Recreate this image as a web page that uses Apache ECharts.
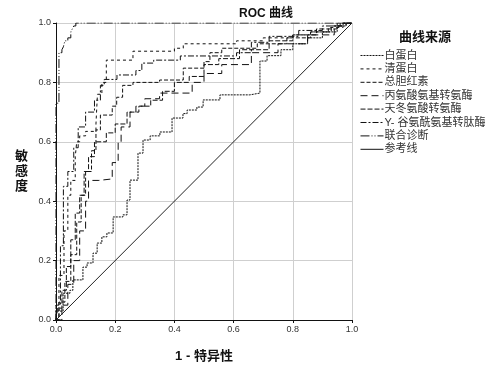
<!DOCTYPE html>
<html>
<head>
<meta charset="utf-8">
<script src="https://cdn.jsdelivr.net/npm/echarts@6/dist/echarts.min.js"></script>
<style>html,body{margin:0;padding:0;background:#fff}#c{width:500px;height:370px}</style>
</head>
<body>
<div id="c"></div>
<script>
// ---- Data (FPR = 1 - specificity, TPR = sensitivity) ----
var seriesNames = ['白蛋白','清蛋白','总胆红素','丙氨酸氨基转氨酶','天冬氨酸转氨酶','Y- 谷氨酰氨基转肽酶','联合诊断','参考线'];
var tickLabels = ['0.0','0.2','0.4','0.6','0.8','1.0'];

var albumin = [[0,0],[0.003,0],[0.003,0.03],[0.024,0.03],[0.024,0.09],[0.047,0.09],[0.047,0.10],[0.057,0.10],[0.057,0.135],[0.091,0.135],[0.091,0.178],[0.105,0.178],[0.105,0.192],[0.125,0.192],[0.125,0.225],[0.139,0.225],[0.139,0.259],[0.155,0.259],[0.155,0.28],[0.172,0.28],[0.172,0.293],[0.193,0.293],[0.193,0.347],[0.226,0.347],[0.226,0.354],[0.24,0.354],[0.24,0.404],[0.25,0.404],[0.25,0.471],[0.277,0.471],[0.277,0.562],[0.294,0.562],[0.294,0.606],[0.318,0.606],[0.318,0.62],[0.351,0.62],[0.351,0.633],[0.392,0.633],[0.392,0.68],[0.429,0.68],[0.429,0.695],[0.443,0.695],[0.443,0.707],[0.476,0.707],[0.476,0.717],[0.497,0.717],[0.497,0.741],[0.554,0.741],[0.554,0.758],[0.655,0.758],[0.655,0.764],[0.689,0.764],[0.689,0.872],[0.713,0.872],[0.713,0.89],[0.76,0.89],[0.76,0.91],[0.8,0.91],[0.8,0.93],[0.85,0.93],[0.85,0.95],[0.9,0.95],[0.9,0.97],[0.95,0.97],[0.95,0.99],[0.98,0.99],[0.98,1],[1,1]];

var prealbumin = [[0,0],[0.01,0],[0.01,0.15],[0.027,0.15],[0.027,0.3],[0.04,0.3],[0.04,0.42],[0.05,0.42],[0.05,0.47],[0.065,0.47],[0.065,0.55],[0.07,0.55],[0.07,0.6],[0.08,0.6],[0.08,0.62],[0.1,0.62],[0.1,0.635],[0.135,0.635],[0.135,0.66],[0.14,0.66],[0.14,0.76],[0.155,0.76],[0.155,0.8],[0.17,0.8],[0.17,0.875],[0.26,0.875],[0.26,0.905],[0.4,0.905],[0.4,0.915],[0.43,0.915],[0.43,0.93],[0.61,0.93],[0.61,0.94],[0.7,0.94],[0.7,0.95],[0.8,0.95],[0.8,0.96],[0.86,0.96],[0.86,0.97],[0.92,0.97],[0.92,0.985],[0.97,0.985],[0.97,1],[1,1]];

var bilirubin = [[0,0],[0.01,0],[0.01,0.06],[0.03,0.06],[0.03,0.13],[0.05,0.13],[0.05,0.22],[0.07,0.22],[0.07,0.33],[0.085,0.33],[0.085,0.42],[0.1,0.42],[0.1,0.5],[0.12,0.5],[0.12,0.57],[0.135,0.57],[0.135,0.64],[0.15,0.64],[0.15,0.69],[0.19,0.69],[0.19,0.72],[0.205,0.72],[0.205,0.75],[0.225,0.75],[0.225,0.79],[0.26,0.79],[0.26,0.80],[0.35,0.80],[0.35,0.808],[0.43,0.808],[0.43,0.848],[0.5,0.848],[0.5,0.87],[0.52,0.87],[0.52,0.9],[0.56,0.9],[0.56,0.915],[0.68,0.915],[0.68,0.93],[0.78,0.93],[0.78,0.95],[0.86,0.95],[0.86,0.97],[0.93,0.97],[0.93,0.99],[0.97,0.99],[0.97,1],[1,1]];

var alt = [[0,0],[0.02,0],[0.02,0.05],[0.04,0.05],[0.04,0.12],[0.06,0.12],[0.06,0.2],[0.08,0.2],[0.08,0.3],[0.1,0.3],[0.1,0.4],[0.11,0.4],[0.11,0.47],[0.145,0.47],[0.145,0.475],[0.19,0.475],[0.19,0.53],[0.21,0.53],[0.21,0.6],[0.22,0.6],[0.22,0.65],[0.25,0.65],[0.25,0.7],[0.27,0.7],[0.27,0.72],[0.3,0.72],[0.3,0.745],[0.35,0.745],[0.35,0.764],[0.46,0.764],[0.46,0.8],[0.5,0.8],[0.5,0.83],[0.56,0.83],[0.56,0.86],[0.66,0.86],[0.66,0.9],[0.75,0.9],[0.75,0.93],[0.85,0.93],[0.85,0.96],[0.94,0.96],[0.94,0.99],[0.98,0.99],[0.98,1],[1,1]];

var ast = [[0,0],[0.005,0],[0.005,0.04],[0.02,0.04],[0.02,0.1],[0.035,0.1],[0.035,0.18],[0.05,0.18],[0.05,0.27],[0.065,0.27],[0.065,0.36],[0.08,0.36],[0.08,0.42],[0.095,0.42],[0.095,0.5],[0.11,0.5],[0.11,0.55],[0.13,0.55],[0.13,0.6],[0.17,0.6],[0.17,0.63],[0.2,0.63],[0.2,0.66],[0.24,0.66],[0.24,0.7],[0.28,0.7],[0.28,0.72],[0.32,0.72],[0.32,0.74],[0.36,0.74],[0.36,0.77],[0.4,0.77],[0.4,0.8],[0.45,0.8],[0.45,0.82],[0.5,0.82],[0.5,0.86],[0.55,0.86],[0.55,0.88],[0.62,0.88],[0.62,0.91],[0.72,0.91],[0.72,0.94],[0.8,0.94],[0.8,0.96],[0.88,0.96],[0.88,0.98],[0.95,0.98],[0.95,1],[1,1]];

var ggt = [[0,0],[0,0.05],[0.015,0.05],[0.015,0.25],[0.025,0.25],[0.025,0.45],[0.04,0.45],[0.04,0.5],[0.06,0.5],[0.06,0.58],[0.075,0.58],[0.075,0.65],[0.1,0.65],[0.1,0.7],[0.13,0.7],[0.13,0.74],[0.15,0.74],[0.15,0.79],[0.163,0.79],[0.163,0.81],[0.206,0.81],[0.206,0.825],[0.27,0.825],[0.27,0.84],[0.29,0.84],[0.29,0.865],[0.33,0.865],[0.33,0.875],[0.42,0.875],[0.42,0.889],[0.61,0.889],[0.61,0.9],[0.66,0.9],[0.66,0.935],[0.72,0.935],[0.72,0.955],[0.82,0.955],[0.82,0.975],[0.9,0.975],[0.9,0.99],[0.96,0.99],[0.96,1],[1,1]];

var combined = [[0,0],[0,0.73],[0.01,0.73],[0.01,0.90],[0.02,0.90],[0.02,0.91],[0.025,0.91],[0.025,0.92],[0.03,0.92],[0.03,0.94],[0.04,0.94],[0.04,0.95],[0.05,0.95],[0.05,0.97],[0.055,0.97],[0.055,0.98],[0.06,0.98],[0.06,0.99],[0.067,0.99],[0.067,1],[1,1]];

var reference = [[0,0],[1,1]];

var curves = [albumin, prealbumin, bilirubin, alt, ast, ggt, combined, reference];
var dashes = [[2,1],[3,3],[4,2],[7,4],[5,2],[6,2,2,2],[9,2,1,2,1,2],'solid'];

var chart = echarts.init(document.getElementById('c'), null, {renderer:'canvas'});
var cjk = '"Liberation Sans","Noto Sans CJK SC",sans-serif';

var series = curves.map(function(d, i){
  return {
    name: seriesNames[i], type:'line', data:d, symbol:'none', showSymbol:false, animation:false,
    color:'#111',
    itemStyle:{color:'#111', opacity:0},
    lineStyle:{color: i===7 ? '#222' : '#111', width: 1, type: dashes[i]},
    z: i===6 ? 5 : 3
  };
});

chart.setOption({
  backgroundColor:'#fff',
  animation:false,
  title:[
    {text:'ROC 曲线', left:261, top:3, textAlign:'center',
     textStyle:{fontFamily:cjk, fontSize:12, fontWeight:'bold', color:'#111'}},
    {text:'曲线来源', left:420, top:26, textAlign:'center',
     textStyle:{fontFamily:cjk, fontSize:13, fontWeight:'bold', color:'#111'}}
  ],
  legend:{
    orient:'vertical', left:355, top:45, itemWidth:23, itemHeight:10, itemGap:2.4,
    data: seriesNames,
    itemStyle:{opacity:0},
    lineStyle:{width:1, color:'#111'},
    textStyle:{fontFamily:cjk, fontSize:11, color:'#333', padding:[0,0,0,-4]}
  },
  grid:{left:56, right:148, top:23, bottom:50, show:false},
  xAxis:{
    type:'value', min:0, max:1, interval:0.2,
    name:'1 - 特异性', nameLocation:'middle', nameGap:30,
    nameTextStyle:{fontFamily:cjk, fontSize:13, fontWeight:'bold', color:'#111'},
    axisLine:{show:true, onZero:false, lineStyle:{color:'#111', width:1}},
    axisTick:{show:true, length:3, lineStyle:{color:'#111'}},
    axisLabel:{fontFamily:'"Liberation Sans",sans-serif', fontSize:9, color:'#333', margin:5,
      formatter:function(v){return tickLabels[Math.round(v/0.2)];}},
    splitLine:{show:true, lineStyle:{color:'#cfcfcf', width:1}}
  },
  yAxis:{
    type:'value', min:0, max:1, interval:0.2,
    name:'敏\n感\n度', nameLocation:'middle', nameGap:28, nameRotate:0,
    nameTextStyle:{fontFamily:cjk, fontSize:13, fontWeight:'bold', color:'#111', lineHeight:15},
    axisLine:{show:true, onZero:false, lineStyle:{color:'#111', width:1}},
    axisTick:{show:true, length:3, lineStyle:{color:'#111'}},
    axisLabel:{fontFamily:'"Liberation Sans",sans-serif', fontSize:9, color:'#333', margin:5,
      formatter:function(v){return tickLabels[Math.round(v/0.2)];}},
    splitLine:{show:true, lineStyle:{color:'#cfcfcf', width:1}}
  },
  series: series
});
</script>
</body>
</html>
